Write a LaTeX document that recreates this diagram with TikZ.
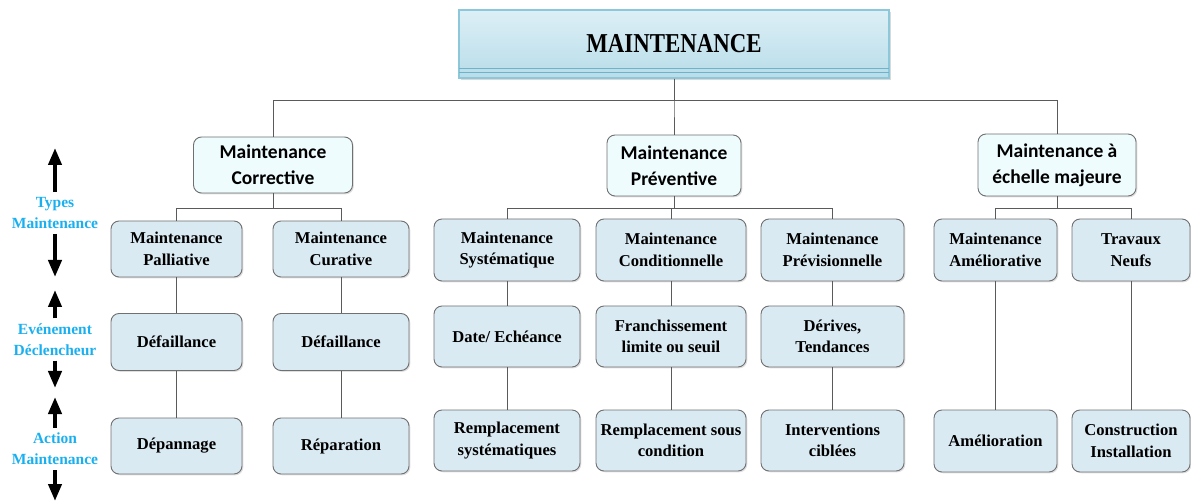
\documentclass[tikz,border=0pt]{standalone}
\usepackage{fontspec}
\setmainfont{Liberation Serif}
\newfontfamily\calib{Carlito}
\usetikzlibrary{arrows.meta,shadows}
\definecolor{boxfill}{HTML}{DAEAF2}
\definecolor{lvtwo}{HTML}{EEFCFE}
\definecolor{edgegray}{HTML}{707070}
\definecolor{conngray}{HTML}{5A5A5A}
\definecolor{labcyan}{HTML}{1AB0F0}
\definecolor{toptop}{HTML}{DDEFF6}
\definecolor{topbot}{HTML}{B8DDE9}
\definecolor{topedge}{HTML}{8CC8DA}
\definecolor{topline}{HTML}{6CB4CB}
\begin{document}
\begin{tikzpicture}[x=1pt,y=-1pt,
  shad/.style={drop shadow={shadow xshift=1.3pt,shadow yshift=-1.3pt,opacity=0.25}},
  box/.style={draw=edgegray,line width=0.9pt,rounded corners=8pt,fill=boxfill,align=center,inner sep=1pt,
    font=\bfseries\fontsize{16.6}{21.5}\selectfont,shad},
  typebox/.style={box,fill=lvtwo,font=\calib\bfseries\fontsize{19.5}{26}\selectfont},
  sz/.style 2 args={minimum width=#1,minimum height=#2},
  conn/.style={draw=conngray,line width=0.8pt},
  lbl/.style={text=labcyan,align=center,inner sep=0pt,font=\bfseries\fontsize{15.5}{21}\selectfont},
  bigarr/.style={-{Triangle[width=13pt,length=17pt]},line width=4pt,shorten <=5pt}]
\useasboundingbox (0,0) rectangle (1191,502);

% top box
\node[draw=topedge,line width=1.4pt,top color=toptop,bottom color=topbot,sz={430pt}{68pt},inner sep=0pt,
  drop shadow={shadow xshift=2pt,shadow yshift=-2pt,opacity=0.3}] (top) at (674,44)
  {\raisebox{2pt}{\scalebox{0.88}[1.05]{\bfseries\fontsize{26}{30}\selectfont MAINTENANCE}}};
\draw[topline,line width=1.3pt] ([xshift=0.7pt,yshift=10pt]top.south west) -- ([xshift=-0.7pt,yshift=10pt]top.south east);
\draw[topline,line width=1.3pt] ([xshift=0.7pt,yshift=6pt]top.south west) -- ([xshift=-0.7pt,yshift=6pt]top.south east);

% level 2
\node[typebox,sz={159pt}{56pt}] (corr) at (273,165) {Maintenance\\Corrective};
\node[typebox,sz={134pt}{61pt}] (prev) at (674,165.5) {Maintenance\\Préventive};
\node[typebox,sz={158pt}{62pt}] (maj) at (1057,165) {Maintenance à\\échelle majeure};

% level 3
\node[box,sz={131pt}{56pt}] (pal) at (176.5,249) {Maintenance\\Palliative};
\node[box,sz={136pt}{56pt}] (cur) at (341,249) {Maintenance\\Curative};
\node[box,sz={146pt}{62pt}] (sys) at (507,250) {Maintenance\\Systématique};
\node[box,sz={150pt}{62pt}] (cond) at (671,250) {Maintenance\\Conditionnelle};
\node[box,sz={143pt}{62pt}] (previs) at (832.5,250) {Maintenance\\Prévisionnelle};
\node[box,sz={123pt}{62pt}] (amel) at (995.5,250) {Maintenance\\Améliorative};
\node[box,sz={118pt}{62pt}] (trav) at (1131,250) {Travaux\\Neufs};

% level 4
\node[box,sz={131pt}{57pt}] (def1) at (176.5,342) {Défaillance};
\node[box,sz={136pt}{57pt}] (def2) at (341,342) {Défaillance};
\node[box,sz={146pt}{61pt}] (date) at (507,336.5) {Date/ Echéance};
\node[box,sz={150pt}{61pt}] (fran) at (671,336.5) {Franchissement\\limite ou seuil};
\node[box,sz={143pt}{61pt}] (der) at (832.5,336.5) {Dérives,\\Tendances};

% level 5
\node[box,sz={131pt}{56pt}] (dep) at (176.5,446) {Dépannage};
\node[box,sz={136pt}{56pt}] (rep) at (341,446) {Réparation};
\node[box,sz={146pt}{61pt}] (rsys) at (507,440.5) {Remplacement\\systématiques};
\node[box,sz={150pt}{61pt}] (rcond) at (671,440.5) {Remplacement sous\\condition};
\node[box,sz={143pt}{61pt}] (inter) at (832.5,440.5) {Interventions\\ciblées};
\node[box,sz={123pt}{62pt}] (amelio) at (995.5,441) {Amélioration};
\node[box,sz={118pt}{62pt}] (constr) at (1131,441) {Construction\\Installation};

% tree connectors
\foreach \c in {corr,prev,maj}
  \draw[conn] (top.south) -- (top.south |- 0,100) -| (\c.north);
\foreach \c in {pal,cur}
  \draw[conn] (corr.south) -- (corr.south |- 0,208) -| (\c.north);
\foreach \c in {sys,cond,previs}
  \draw[conn] (prev.south) -- (prev.south |- 0,208) -| (\c.north);
\foreach \c in {amel,trav}
  \draw[conn] (maj.south) -- (maj.south |- 0,208) -| (\c.north);
\draw[conn] (pal) -- (def1); \draw[conn] (def1) -- (dep);
\draw[conn] (cur) -- (def2); \draw[conn] (def2) -- (rep);
\draw[conn] (sys) -- (date); \draw[conn] (date) -- (rsys);
\draw[conn] (cond) -- (fran); \draw[conn] (fran) -- (rcond);
\draw[conn] (previs) -- (der); \draw[conn] (der) -- (inter);
\draw[conn] (amel) -- (amelio);
\draw[conn] (trav) -- (constr);

% left labels and arrows
\node[lbl] (t1) at (55,213) {Types\\Maintenance};
\node[lbl] (t2) at (55,339.5) {Evénement\\Déclencheur};
\node[lbl] (t3) at (55,449) {Action\\Maintenance};
\coordinate (a1) at (55,148);
\coordinate (a2) at (55,277);
\coordinate (a3) at (55,290);
\coordinate (a4) at (55,388);
\coordinate (a5) at (55,397);
\coordinate (a6) at (55,501);
\draw[bigarr] (t1.north) -- (a1);
\draw[bigarr] (t1.south) -- (a2);
\draw[bigarr] (t2.north) -- (a3);
\draw[bigarr] (t2.south) -- (a4);
\draw[bigarr] (t3.north) -- (a5);
\draw[bigarr] (t3.south) -- (a6);
\end{tikzpicture}
\end{document}
